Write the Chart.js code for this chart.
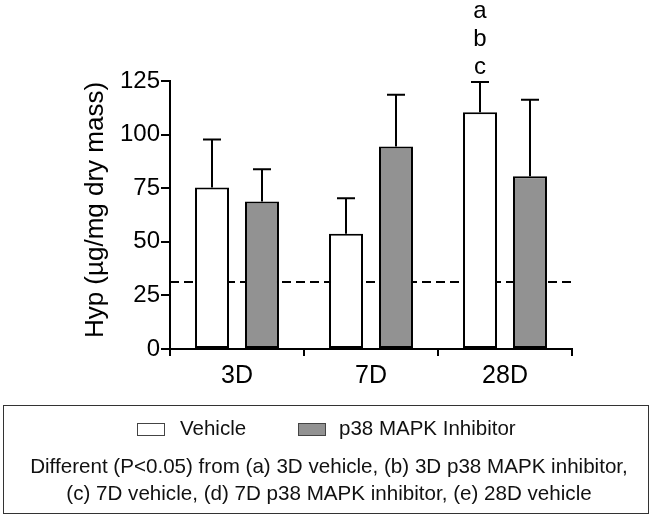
<!DOCTYPE html>
<html>
<head>
<meta charset="utf-8">
<script src="https://cdn.jsdelivr.net/npm/chart.js@4.4.0/dist/chart.umd.min.js"></script>
<style>
  html, body { margin: 0; padding: 0; background: #fff; }
  #wrap { position: relative; width: 652px; height: 519px; font-family: "Liberation Sans", Arial, sans-serif; }
  #c { position: absolute; left: 0; top: 0; }
  #legend { position: absolute; left: 3px; top: 405px; width: 644px; height: 107px; border: 1px solid #333; box-sizing: content-box; color: #111; }
  .sw { position: absolute; top: 17px; width: 26px; height: 11px; border: 1px solid #444; }
  .lt { position: absolute; top: 10px; font-size: 20.5px; line-height: 24px; white-space: nowrap; }
  #note { position: absolute; left: 0; width: 650px; top: 46px; text-align: center; font-size: 20.6px; line-height: 27px; white-space: nowrap; }
</style>
</head>
<body>
<div id="wrap">
  <canvas id="c" width="652" height="519"></canvas>
  <div id="legend">
    <div class="sw" id="sw0" style="left:133px;"></div>
    <div class="lt" id="lt0" style="left:176px;"></div>
    <div class="sw" id="sw1" style="left:294px;"></div>
    <div class="lt" id="lt1" style="left:335px;"></div>
    <div id="note"></div>
  </div>
</div>
<script>
// ---- data ----
const categories = ['3D', '7D', '28D'];
const seriesNames = ['Vehicle', 'p38 MAPK Inhibitor'];
const vehicleMean = [75.3, 53.7, 110.4];
const vehicleSD = [22.4, 16.6, 14.1];
const inhibitorMean = [68.8, 94.4, 80.6];
const inhibitorSD = [15.0, 24.2, 35.7];
const baselineValue = 31.3;
const yTicks = [0, 25, 50, 75, 100, 125];
const sigLetters = ['a', 'b', 'c'];      // above 28D vehicle
const sigCategoryIndex = 2;
const yAxisTitle = 'Hyp (\u00b5g/mg dry mass)';
const noteLines = [
  'Different (P<0.05) from (a) 3D vehicle, (b) 3D p38 MAPK inhibitor,',
  '(c) 7D vehicle, (d) 7D p38 MAPK inhibitor, (e) 28D vehicle'
];
const colors = ['#ffffff', '#929292'];

// ---- legend (HTML text) ----
document.getElementById('lt0').textContent = seriesNames[0];
document.getElementById('lt1').textContent = seriesNames[1];
document.getElementById('sw0').style.background = colors[0];
document.getElementById('sw1').style.background = colors[1];
document.getElementById('note').innerHTML = noteLines.map(s => s.replace(/</g, '&lt;')).join('<br>');

const FONT = '"Liberation Sans", Arial, sans-serif';

const errorBars = {
  id: 'errorBars',
  beforeDatasetsDraw(chart) {
    const {ctx, chartArea, scales: {y}} = chart;
    const py = y.getPixelForValue(baselineValue);
    ctx.save();
    ctx.strokeStyle = '#000';
    ctx.lineWidth = 2;
    ctx.setLineDash([9, 5]);
    ctx.beginPath();
    ctx.moveTo(chartArea.left, py);
    ctx.lineTo(chartArea.right, py);
    ctx.stroke();
    ctx.restore();
    // y axis title
    ctx.save();
    ctx.fillStyle = '#000';
    ctx.font = '26px ' + FONT;
    ctx.textAlign = 'center';
    ctx.textBaseline = 'middle';
    ctx.translate(96, (chartArea.top + chartArea.bottom) / 2 - 5);
    ctx.rotate(-Math.PI / 2);
    ctx.fillText(yAxisTitle, 0, 0);
    ctx.restore();
  },
  afterDatasetsDraw(chart) {
    const {ctx, scales: {y}} = chart;
    const sds = [vehicleSD, inhibitorSD];
    const means = [vehicleMean, inhibitorMean];
    ctx.save();
    ctx.strokeStyle = '#000';
    ctx.lineWidth = 2;
    chart.data.datasets.forEach((ds, di) => {
      const meta = chart.getDatasetMeta(di);
      meta.data.forEach((bar, i) => {
        const top = y.getPixelForValue(means[di][i] + sds[di][i]);
        const x = Math.round(bar.x);
        ctx.beginPath();
        ctx.moveTo(x, bar.y);
        ctx.lineTo(x, top);
        ctx.moveTo(x - 9, top);
        ctx.lineTo(x + 9, top);
        ctx.stroke();
      });
    });
    // significance letters
    const bar = chart.getDatasetMeta(0).data[sigCategoryIndex];
    const capTop = y.getPixelForValue(vehicleMean[sigCategoryIndex] + vehicleSD[sigCategoryIndex]);
    ctx.fillStyle = '#000';
    ctx.font = '24px ' + FONT;
    ctx.textAlign = 'center';
    ctx.textBaseline = 'middle';
    sigLetters.slice().reverse().forEach((L, k) => {
      ctx.fillText(L, bar.x, capTop - 15 - k * 28);
    });
    ctx.restore();
  }
};

new Chart(document.getElementById('c'), {
  type: 'bar',
  data: {
    labels: categories,
    datasets: [
      { label: seriesNames[0], data: vehicleMean, backgroundColor: colors[0], borderColor: '#000', borderWidth: 2, borderSkipped: false },
      { label: seriesNames[1], data: inhibitorMean, backgroundColor: colors[1], borderColor: '#000', borderWidth: 2, borderSkipped: false }
    ]
  },
  options: {
    responsive: false,
    animation: false,
    events: [],
    layout: { padding: { left: 0, top: 81, right: 80, bottom: 0 } },
    plugins: { legend: { display: false }, tooltip: { enabled: false } },
    datasets: { bar: { categoryPercentage: 0.746, barPercentage: 0.68 } },
    scales: {
      x: {
        grid: { display: true, drawOnChartArea: false, drawTicks: true, tickLength: 7, color: '#000', lineWidth: 2 },
        border: { display: true, color: '#000', width: 2 },
        ticks: { color: '#000', font: { family: FONT, size: 25 }, padding: 5 },
        afterFit(axis) { axis.height = 170; }
      },
      y: {
        min: 0, max: 125,
        afterBuildTicks(axis) { axis.ticks = yTicks.map(v => ({ value: v })); },
        grid: { display: true, drawOnChartArea: false, drawTicks: true, tickLength: 9, color: '#000', lineWidth: 2 },
        border: { display: true, color: '#000', width: 2 },
        ticks: { color: '#000', font: { family: FONT, size: 24 }, padding: 1 },
        title: { display: false },
        afterFit(axis) { axis.width = 170; }
      }
    }
  },
  plugins: [errorBars]
});
</script>
</body>
</html>
